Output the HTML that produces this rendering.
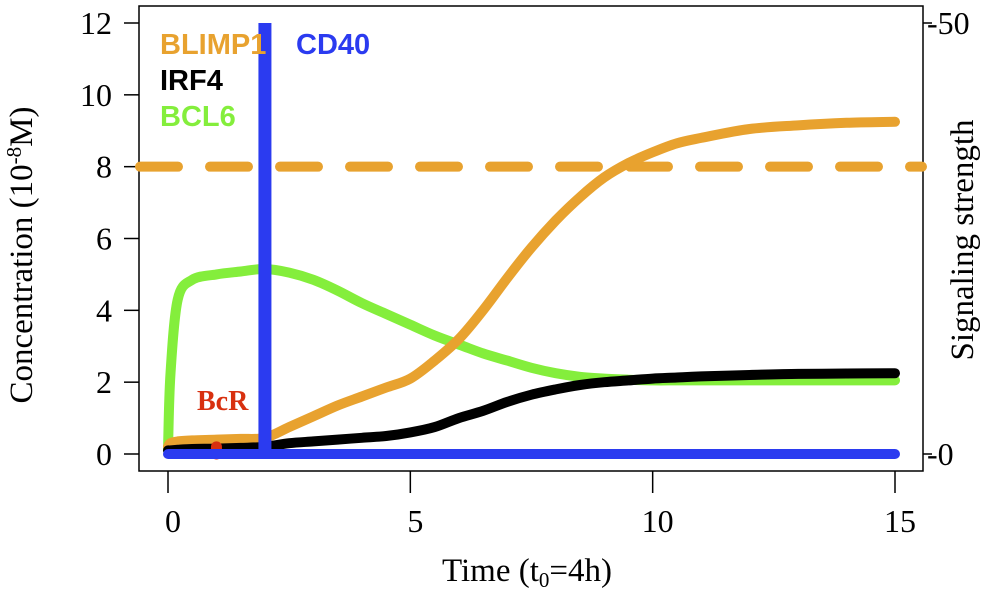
<!DOCTYPE html>
<html><head><meta charset="utf-8"><style>
body{margin:0;background:#fff;}
svg text{font-family:"Liberation Serif",serif;}
</style></head><body>
<svg id="c" width="982" height="589" viewBox="0 0 982 589"></svg>
<script>
const xVals=[0,0.05,0.2,0.5,1,1.5,2,2.5,3,3.5,4,4.5,5,5.5,6,6.5,7,7.5,8,8.5,9,9.5,10,10.5,11,12,13,14,15];
const blimp1=[0.2,0.3,0.35,0.38,0.4,0.42,0.45,0.75,1.05,1.35,1.6,1.85,2.1,2.6,3.2,4.0,4.9,5.75,6.5,7.15,7.7,8.1,8.4,8.65,8.8,9.05,9.15,9.22,9.25];
const bcl6=[0.1,2.2,4.3,4.85,5.0,5.08,5.15,5.05,4.85,4.55,4.2,3.9,3.6,3.3,3.05,2.8,2.6,2.4,2.25,2.15,2.1,2.07,2.05,2.05,2.05,2.05,2.05,2.05,2.05];
const irf4=[0.1,0.1,0.12,0.14,0.15,0.17,0.2,0.3,0.35,0.4,0.45,0.5,0.6,0.75,1.0,1.2,1.45,1.65,1.8,1.92,2.0,2.05,2.1,2.13,2.16,2.2,2.23,2.24,2.25];
const yTicks=[0,2,4,6,8,10,12];
const xTicks=[0,5,10,15];
const rTicks=[0,50];
const threshold=8;
const cd40Time=2, cd40Signal=50;
const bcrTime=1, bcrLevel=0.2;
const NS="http://www.w3.org/2000/svg",svg=document.getElementById('c');
const X=v=>168+v*(895-168)/15, Y=v=>454-v*(454-23)/12, YR=v=>454-v*(454-23)/50;
function el(t,a,txt){const e=document.createElementNS(NS,t);for(const k in a)e.setAttribute(k,a[k]);if(txt!=null)e.textContent=txt;svg.appendChild(e);return e;}
let e;
e=el('rect',{x:139,y:6,width:784,height:465,fill:'none',stroke:'#000','stroke-width':1.5});

yTicks.forEach(t=>{e=el('line',{x1:124,x2:139,y1:Y(t),y2:Y(t),stroke:'#000','stroke-width':1.5});

e=el('text',{x:112,y:Y(t)+11,'text-anchor':'end','font-size':32},t);
});
xTicks.forEach(t=>{e=el('line',{x1:X(t),x2:X(t),y1:471,y2:493,stroke:'#000','stroke-width':1.5});

e=el('text',{x:X(t)+5,y:532,'text-anchor':'middle','font-size':32},t);
});
rTicks.forEach(t=>{e=el('line',{x1:923,x2:932,y1:YR(t),y2:YR(t),stroke:'#000','stroke-width':1.5});

e=el('text',{x:927,y:YR(t)+11,'font-size':32},'-'+t);
});
e=el('line',{x1:140,x2:922,y1:Y(threshold),y2:Y(threshold),stroke:'#E8A22F','stroke-width':10,'stroke-dasharray':'38,32','stroke-linecap':'round'});

function line(arr,col,name){
const p=arr.map((v,i)=>[X(xVals[i]),Y(v)]);
let d='M'+p[0][0].toFixed(1)+','+p[0][1].toFixed(1);
for(let i=0;i<p.length-1;i++){const p0=p[Math.max(i-1,0)],p1=p[i],p2=p[i+1],p3=p[Math.min(i+2,p.length-1)];
const c1=[p1[0]+(p2[0]-p0[0])/6,p1[1]+(p2[1]-p0[1])/6],c2=[p2[0]-(p3[0]-p1[0])/6,p2[1]-(p3[1]-p1[1])/6];
d+='C'+c1.map(n=>n.toFixed(1))+' '+c2.map(n=>n.toFixed(1))+' '+p2.map(n=>n.toFixed(1));}
e=el('path',{d:d,fill:'none',stroke:col,'stroke-width':10,'stroke-linecap':'round','stroke-linejoin':'round'});
}
line(bcl6,'#84EE3C','bcl6-line');
line(blimp1,'#E8A22F','blimp1-line');
line(irf4,'#000','irf4-line');
e=el('line',{x1:X(bcrTime),x2:X(bcrTime),y1:Y(0),y2:Y(bcrLevel),stroke:'#D8300F','stroke-width':11,'stroke-linecap':'round'});

e=el('line',{x1:X(0),x2:X(15),y1:YR(0),y2:YR(0),stroke:'#2B3BF0','stroke-width':10,'stroke-linecap':'round'});

e=el('line',{x1:X(cd40Time),x2:X(cd40Time),y1:YR(0),y2:YR(cd40Signal),stroke:'#2B3BF0','stroke-width':13});

const labs=[['BLIMP1',160,54,'#E8A22F','legend-blimp1'],['IRF4',160,90,'#000','legend-irf4'],['BCL6',160,126,'#84EE3C','legend-bcl6'],['CD40',296,54,'#2B3BF0','legend-cd40'],['BcR',197,410,'#D8300F','label-bcr']];
labs.forEach(l=>{e=el('text',{x:l[1],y:l[2],fill:l[3],'font-size':l[0]==='BcR'?28:29,'font-weight':'bold'},l[0]);e.style.fontFamily=l[0]==='BcR'?'"Liberation Serif",serif':'"Liberation Sans",sans-serif';
});
e=el('text',{x:442,y:581,'font-size':33},'');e.innerHTML='Time (t<tspan font-size="21" dy="6">0</tspan><tspan dy="-6">=4h)</tspan>';

e=el('text',{transform:'translate(32,255) rotate(-90)','text-anchor':'middle','font-size':33},'');e.innerHTML='Concentration (10<tspan font-size="21" dy="-11">-8</tspan><tspan dy="11">M)</tspan>';

e=el('text',{transform:'translate(973,240) rotate(-90)','text-anchor':'middle','font-size':33},'Signaling strength');

</script>
</body></html>
